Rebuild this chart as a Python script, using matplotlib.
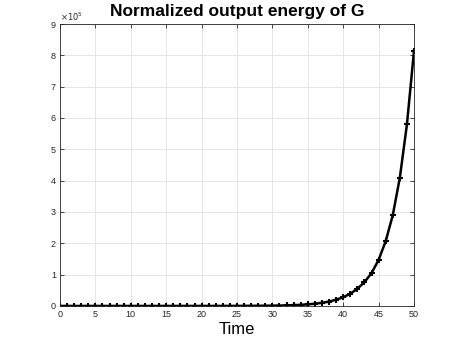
import numpy as np
import matplotlib
matplotlib.use("Agg")
import matplotlib.pyplot as plt

plt.rcParams['font.family'] = ['Liberation Sans', 'DejaVu Sans']

# time steps 0..50 and normalized output energy
time = list(range(51))
energy = [
    1, 1, 1, 1, 1, 1, 1, 1, 1, 1,
    2, 2, 3, 4, 5, 7, 10, 14, 19, 27,
    38, 53, 75, 100, 140, 200, 280, 400, 560, 800,
    1100, 1300, 1800, 2600, 3600, 5000, 7200, 10000, 14000, 20000,
    28000, 39000, 55000, 76000, 105000, 147000, 207000, 290000, 410000, 580000,
    815000,
]
xticks = list(range(0, 51, 5))
yticks = list(range(0, 10))
scale = 1e5

fig = plt.figure(figsize=(4.58, 3.43), dpi=100)
ax = fig.add_axes([0.131, 0.108, 0.773, 0.822])

y = np.array(energy) / scale
ax.plot(time, y, color='black', linewidth=1.8, marker='+', markersize=5,
        markeredgewidth=1.5)

ax.set_xlim(0, 50)
ax.set_ylim(0, 9)
ax.set_xticks(xticks)
ax.set_yticks(yticks)
ax.grid(True, color='#e6e6e6', linewidth=0.7)
ax.set_axisbelow(True)
ax.tick_params(direction='in', length=3, width=0.6, labelsize=6.5,
               colors='#262626', top=True, right=True, pad=3)
for s in ax.spines.values():
    s.set_color('#262626')
    s.set_linewidth(0.6)

ax.text(0.0, 1.005, r'$\times10^5$', transform=ax.transAxes, fontsize=6,
        color='#262626', ha='left', va='bottom')
ax.set_title('Normalized output energy of G', fontsize=12.5, fontweight='bold',
             pad=6)
ax.set_xlabel('Time', fontsize=12, labelpad=2)

fig.savefig('out.png', dpi=100)
